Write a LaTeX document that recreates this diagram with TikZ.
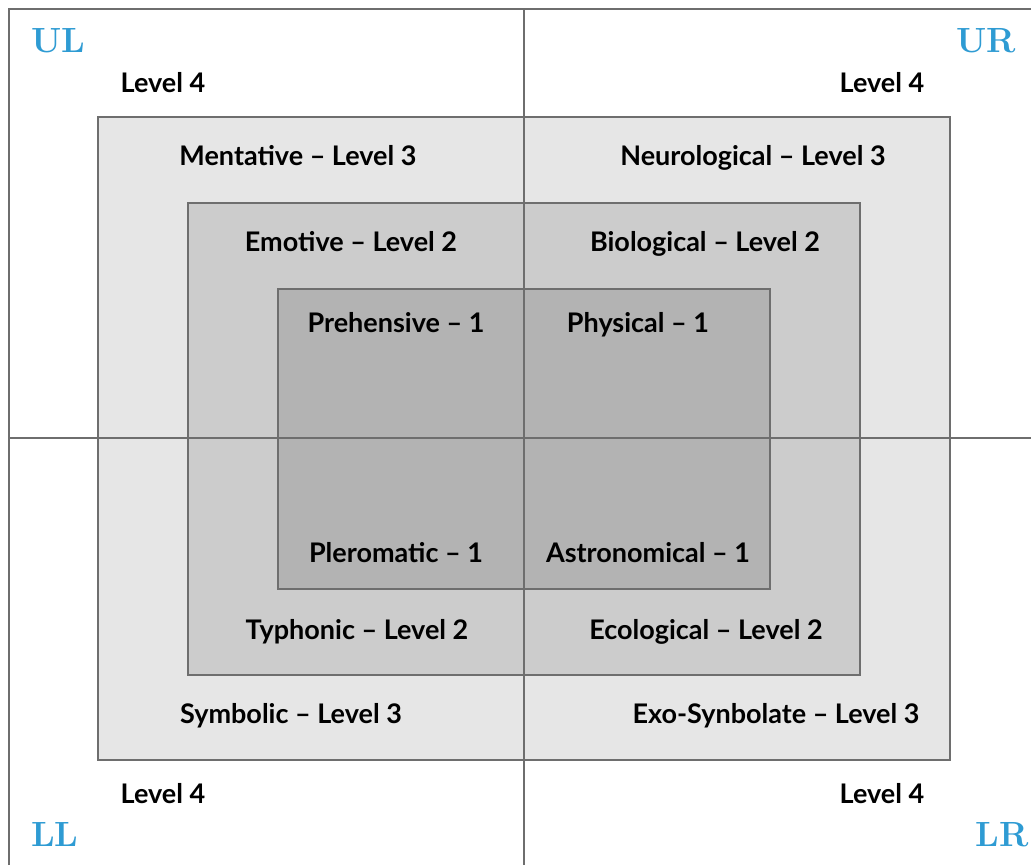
\documentclass[tikz,border=0pt]{standalone}
\usepackage{fontspec}
\setsansfont{Lato}
\definecolor{qblue}{RGB}{46,155,211}
\definecolor{edge}{RGB}{110,110,110}
\definecolor{fillA}{RGB}{230,230,230}
\definecolor{fillB}{RGB}{204,204,204}
\definecolor{fillC}{RGB}{179,179,179}
\begin{document}
\begin{tikzpicture}[x=1pt,y=-1pt,
  frame/.style={draw=edge,line width=2.5pt},
  lbl/.style={anchor=base,inner sep=0pt,font=\sffamily\bfseries\fontsize{27}{30}\selectfont},
  quad/.style={anchor=base,inner sep=0pt,text=qblue,font=\rmfamily\bfseries\fontsize{35}{38}\selectfont}]
\useasboundingbox (0,0) rectangle (1031,865);
\fill[white] (0,0) rectangle (1031,865);
% nested rectangles
\draw[frame,fill=fillA] (98,117) rectangle (950,760);
\draw[frame,fill=fillB] (188,203) rectangle (860,675);
\draw[frame,fill=fillC] (278,289) rectangle (770,589);
% outer frame and quadrant axes
\coordinate (tl) at (9,9);
\coordinate (tr) at (1031,9);
\coordinate (bl) at (9,865);
\coordinate (ml) at (9,438);
\coordinate (mr) at (1031,438);
\coordinate (mt) at (524,9);
\coordinate (mb) at (524,865);
\draw[frame] (bl) -- (tl) -- (tr);
\draw[frame] (ml) -- (mr);
\draw[frame] (mt) -- (mb);
% quadrant labels
\node[quad] (ul) at (58,52) {UL};
\node[quad] (ur) at (986,52) {UR};
\node[quad] (ll) at (55,846) {LL};
\node[quad] (lr) at (1002,846) {LR};
% level 4
\node[lbl] (l4a) at (163,92) {Level 4};
\node[lbl] (l4b) at (882,92) {Level 4};
\node[lbl] (l4c) at (163,803) {Level 4};
\node[lbl] (l4d) at (882,803) {Level 4};
% level 3
\node[lbl] (men) at (298,165) {Mentative – Level 3};
\node[lbl] (neu) at (753,165) {Neurological – Level 3};
\node[lbl] (sym) at (291,723) {Symbolic – Level 3};
\node[lbl] (exo) at (776,723) {Exo-Synbolate – Level 3};
% level 2
\node[lbl] (emo) at (351,251) {Emotive – Level 2};
\node[lbl] (bio) at (705,251) {Biological – Level 2};
\node[lbl] (typ) at (357,639) {Typhonic – Level 2};
\node[lbl] (eco) at (706,639) {Ecological – Level 2};
% level 1
\node[lbl] (pre) at (396,332) {Prehensive – 1};
\node[lbl] (phy) at (638,332) {Physical – 1};
\node[lbl] (ple) at (396,562) {Pleromatic – 1};
\node[lbl] (ast) at (648,562) {Astronomical – 1};
\end{tikzpicture}
\end{document}
